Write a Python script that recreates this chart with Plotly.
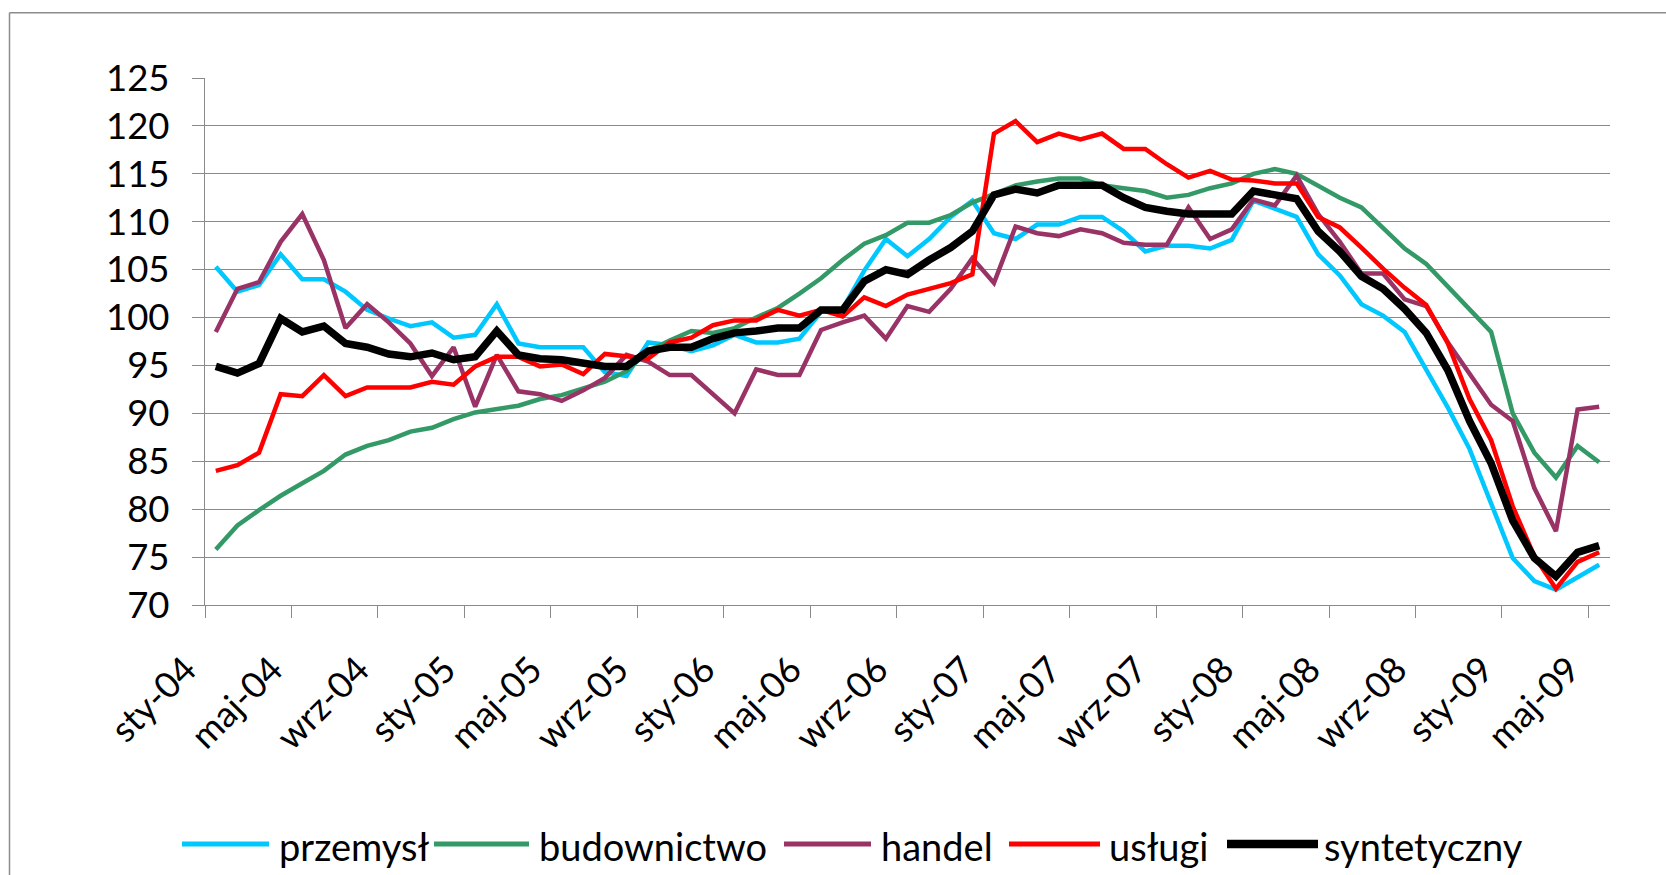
import plotly.graph_objects as go

# ---- data ----
months = ["sty", "lut", "mar", "kwi", "maj", "cze", "lip", "sie", "wrz", "paź", "lis", "gru"]
categories = [f"{months[m]}-{y:02d}" for y in range(4, 10) for m in range(12)][:65]

przemysl = [105.3, 102.7, 103.4, 106.6, 104.0, 104.0, 102.7, 100.8, 99.9, 99.1, 99.5, 97.9,
            98.2, 101.4, 97.3, 96.9, 96.9, 96.9, 94.3, 93.9, 97.4, 97.1, 96.5, 97.1,
            98.2, 97.4, 97.4, 97.8, 100.6, 100.9, 104.9, 108.2, 106.4, 108.2, 110.5, 112.2,
            108.8, 108.2, 109.7, 109.7, 110.5, 110.5, 109.0, 106.9, 107.5, 107.5, 107.2, 108.1,
            112.2, 111.3, 110.5, 106.6, 104.4, 101.4, 100.2, 98.5, 94.6, 90.6, 86.3, 80.7,
            74.9, 72.5, 71.6, 72.9, 74.2]
budownictwo = [75.8, 78.3, 79.9, 81.4, 82.7, 84.0, 85.7, 86.6, 87.2, 88.1, 88.5, 89.4,
               90.1, 90.4, 90.8, 91.5, 91.9, 92.6, 93.3, 94.4, 96.5, 97.6, 98.6, 98.4,
               98.9, 100.0, 101.0, 102.5, 104.1, 106.0, 107.7, 108.6, 109.9, 109.9, 110.7, 112.0,
               112.9, 113.8, 114.2, 114.5, 114.5, 113.8, 113.5, 113.2, 112.5, 112.8, 113.5, 114.0,
               115.0, 115.5, 115.0, 113.8, 112.5, 111.5, 109.3, 107.2, 105.6, 103.2, 100.9, 98.5,
               90.0, 85.9, 83.3, 86.6, 84.9]
handel = [98.5, 103.0, 103.7, 107.9, 110.8, 106.0, 98.9, 101.4, 99.5, 97.3, 93.9, 96.9,
          90.7, 96.1, 92.3, 92.0, 91.3, 92.4, 93.7, 96.1, 95.4, 94.0, 94.0, 92.0,
          90.0, 94.6, 94.0, 94.0, 98.7, 99.5, 100.2, 97.8, 101.2, 100.6, 103.0, 106.2,
          103.6, 109.5, 108.8, 108.5, 109.2, 108.8, 107.8, 107.6, 107.6, 111.5, 108.2, 109.2,
          112.3, 111.7, 114.8, 110.8, 107.9, 104.6, 104.6, 101.9, 101.2, 97.4, 94.1, 90.9,
          89.2, 82.2, 77.7, 90.4, 90.7]
uslugi = [84.0, 84.6, 85.9, 92.0, 91.8, 94.0, 91.8, 92.7, 92.7, 92.7, 93.3, 93.0,
          94.9, 95.9, 95.9, 94.9, 95.1, 94.1, 96.2, 95.9, 95.7, 97.4, 97.9, 99.2,
          99.7, 99.7, 100.8, 100.2, 100.8, 100.1, 102.1, 101.2, 102.4, 103.0, 103.6, 104.5,
          119.2, 120.5, 118.3, 119.2, 118.6, 119.2, 117.6, 117.6, 116.0, 114.6, 115.3, 114.4,
          114.3, 114.0, 114.0, 110.5, 109.4, 107.3, 105.1, 103.1, 101.3, 97.3, 91.5, 87.2,
          80.3, 75.1, 71.7, 74.5, 75.5]
syntetyczny = [94.9, 94.2, 95.2, 99.9, 98.5, 99.1, 97.3, 96.9, 96.2, 95.9, 96.3, 95.6,
               95.9, 98.6, 96.1, 95.7, 95.6, 95.3, 94.9, 94.9, 96.5, 96.9, 96.9, 97.8,
               98.4, 98.6, 98.9, 98.9, 100.8, 100.8, 103.8, 105.0, 104.5, 106.0, 107.3, 109.0,
               112.8, 113.4, 113.0, 113.8, 113.8, 113.8, 112.5, 111.5, 111.1, 110.8, 110.8, 110.8,
               113.2, 112.8, 112.4, 109.0, 106.9, 104.3, 103.0, 100.9, 98.4, 94.5, 89.2, 84.8,
               78.8, 74.9, 73.0, 75.5, 76.2]

series_names = ["przemysł", "budownictwo", "handel", "usługi", "syntetyczny"]
series_values = [przemysl, budownictwo, handel, uslugi, syntetyczny]
series_colors = ["#00C8FF", "#339966", "#993366", "#FF0000", "#000000"]
series_widths = [4.5, 4.5, 4.5, 4.5, 7.5]

tick_step = 4
y_min, y_max, y_step = 70, 125, 5

# ---- figure ----
W, H = 1666, 875
L, R, T, B = 205, 56, 78, 270
PW, PH = W - L - R, H - T - B

def px_x(p):
    return (p - L) / PW

def px_y(p):
    return (H - B - p) / PH

FONT = "Lato, 'Open Sans', sans-serif"
GRID = "#8A8A8A"

fig = go.Figure()
xs = list(range(len(categories)))
for name, vals, col, w in zip(series_names, series_values, series_colors, series_widths):
    fig.add_trace(go.Scatter(x=xs, y=vals, name=name, mode="lines",
                             line=dict(color=col, width=w), showlegend=False))

tickvals = xs[::tick_step]
ticktext = categories[::tick_step]

fig.update_layout(
    width=W, height=H,
    margin=dict(l=L, r=R, t=T, b=B, pad=0),
    paper_bgcolor="white", plot_bgcolor="white",
    font=dict(family=FONT, size=36, color="black"),
    xaxis=dict(range=[-0.5, len(categories) - 0.5], tickmode="array",
               tickvals=tickvals, ticktext=ticktext, tickangle=-45,
               ticks="", showgrid=False, zeroline=False,
               showline=True, linecolor=GRID, linewidth=1.3,
               ticklabelstandoff=28, ticklabelshift=-30,
               tickfont=dict(family=FONT, size=36),
               minor=dict(tickmode="array",
                          tickvals=[v - 0.5 for v in range(0, len(categories), tick_step)],
                          ticks="outside", ticklen=12, tickwidth=1.3, tickcolor=GRID,
                          showgrid=False)),
    yaxis=dict(range=[y_min, y_max], tickmode="linear", tick0=y_min, dtick=y_step,
               showgrid=True, gridcolor=GRID, gridwidth=1.2, zeroline=False,
               showline=True, linecolor=GRID, linewidth=1.3,
               ticks="outside", ticklen=12, tickwidth=1.3, tickcolor=GRID,
               ticklabelstandoff=15,
               tickfont=dict(family=FONT, size=36.5)),
)

# chart-area border (top & left edges visible)
fig.add_shape(type="line", xref="paper", yref="paper",
              x0=px_x(9.5), x1=px_x(W + 20), y0=px_y(12.7), y1=px_y(12.7),
              line=dict(color="#8C8C8C", width=1.5), layer="above")
fig.add_shape(type="line", xref="paper", yref="paper",
              x0=px_x(9.5), x1=px_x(9.5), y0=px_y(12.7), y1=px_y(H + 20),
              line=dict(color="#8C8C8C", width=1.5), layer="above")

# legend (line sample + label)
legend_items = [  # (line x0, line x1, text x) in px
    (182, 269, 277),
    (434, 529, 537),
    (784, 871, 879),
    (1009, 1100, 1107),
    (1227, 1318, 1322),
]
leg_y = 844
for (x0, x1, tx), name, col, w in zip(legend_items, series_names, series_colors, series_widths):
    fig.add_shape(type="line", xref="paper", yref="paper",
                  x0=px_x(x0), x1=px_x(x1), y0=px_y(leg_y), y1=px_y(leg_y),
                  line=dict(color=col, width=w + 0.5 if w < 6 else 8.5))
    fig.add_annotation(xref="paper", yref="paper", x=px_x(tx), y=px_y(leg_y + 2),
                       text=name, showarrow=False, xanchor="left", yanchor="middle",
                       font=dict(family=FONT, size=38, color="black"))

fig.write_html("out.html", config={"displayModeBar": False},
               post_script="document.body.style.margin='0';document.body.style.overflow='hidden';")
